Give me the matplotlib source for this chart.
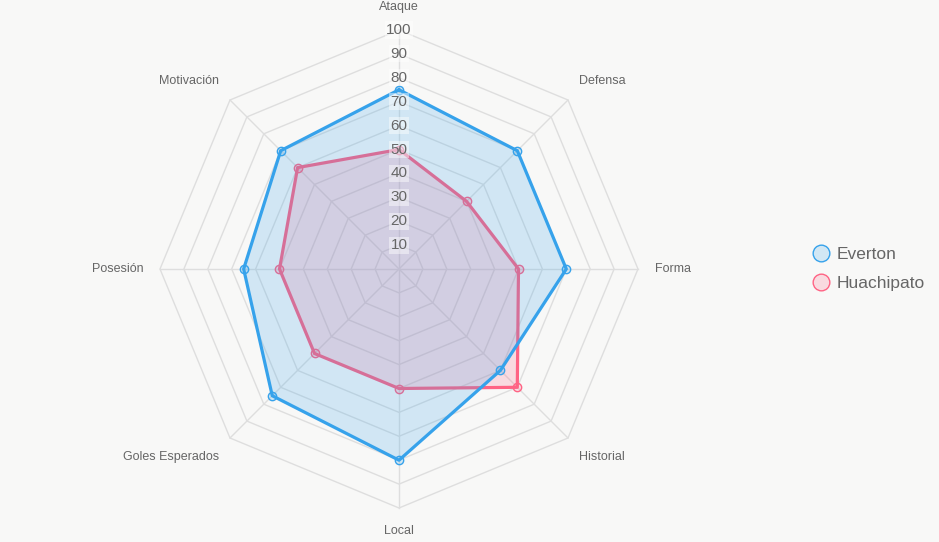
import numpy as np
import matplotlib
matplotlib.use('Agg')
import matplotlib.pyplot as plt
from matplotlib.lines import Line2D

categories = ['Ataque', 'Defensa', 'Forma', 'Historial', 'Local',
              'Goles Esperados', 'Posesión', 'Motivación']
everton = [75, 70, 70, 60, 80, 75, 65, 70]
huachipato = [50, 40, 50, 70, 50, 50, 50, 60]
ticks = [10, 20, 30, 40, 50, 60, 70, 80, 90, 100]

plt.rcParams['font.family'] = ['Liberation Sans', 'DejaVu Sans']

bg = '#f8f8f7'
blue = '#36a2eb'
pink = '#ff6384'

# pixel scale: 2.39 px per unit, centre at (399, 269)
s = 2.39
cx, cy = 399, 269
W, H = 939, 542

fig = plt.figure(figsize=(W / 100, H / 100), dpi=100, facecolor=bg)
ax = fig.add_axes([0, 0, 1, 1])
ax.set_facecolor(bg)
ax.set_xlim(-cx / s, (W - cx) / s)
ax.set_ylim(-(H - cy) / s, cy / s)
ax.axis('off')

n = len(categories)
ang = np.pi / 2 - np.arange(n) * 2 * np.pi / n
ux, uy = np.cos(ang), np.sin(ang)


def poly(vals):
    v = np.array(vals, dtype=float)
    x = v * ux
    y = v * uy
    return np.append(x, x[0]), np.append(y, y[0])


# grid
for t in ticks:
    gx, gy = poly([t] * n)
    ax.plot(gx, gy, color='#dedede', lw=1, zorder=1)
for i in range(n):
    ax.plot([0, 100 * ux[i]], [0, 100 * uy[i]], color='#dedede', lw=1, zorder=1)

# Huachipato (drawn below)
hx, hy = poly(huachipato)
ax.fill(hx, hy, color=pink, alpha=0.2, lw=0, zorder=2)
ax.plot(hx, hy, color=pink, lw=2.3, zorder=3)
ax.plot(hx[:-1], hy[:-1], 'o', ms=6, mfc=(1, 0.39, 0.52, 0.2), mec=pink,
        mew=1, zorder=3)

# Everton (on top)
ex, ey = poly(everton)
ax.fill(ex, ey, color=blue, alpha=0.2, lw=0, zorder=4)
ax.plot(ex, ey, color=blue, lw=2.3, zorder=5)
ax.plot(ex[:-1], ey[:-1], 'o', ms=6, mfc=(0.21, 0.64, 0.92, 0.2), mec=blue,
        mew=1, zorder=5)

# tick labels
for t in ticks:
    ax.text(0, t, str(t), ha='center', va='center', fontsize=11,
            color='#666666', zorder=6,
            bbox=dict(boxstyle='square,pad=0.1', fc=(1, 1, 1, 0.45), ec='none'))

# point labels
for i, c in enumerate(categories):
    dx, dy = ux[i], uy[i]
    if abs(dx) < 0.01:
        ha = 'center'
        lx, ly = 0, 109.5 * np.sign(dy)
    elif abs(dy) < 0.01:
        ha = 'left' if dx > 0 else 'right'
        lx, ly = 107 * np.sign(dx), 0
    else:
        ha = 'left' if dx > 0 else 'right'
        lx, ly = 75.3 * np.sign(dx), 78.5 * np.sign(dy)
    ax.text(lx, ly, c, ha=ha, va='center', fontsize=9, color='#666666')

handles = [Line2D([], [], ls='none', marker='o', ms=12,
                  mfc=(0.21, 0.64, 0.92, 0.2), mec=blue, mew=1),
           Line2D([], [], ls='none', marker='o', ms=12,
                  mfc=(1, 0.39, 0.52, 0.2), mec=pink, mew=1)]
leg = ax.legend(handles, ['Everton', 'Huachipato'], loc='center left',
                bbox_to_anchor=(804 / W, 1 - 269 / H), frameon=False,
                fontsize=12.5, handletextpad=0.3, labelspacing=0.75,
                handlelength=1.2, borderaxespad=0)
for tx in leg.get_texts():
    tx.set_color('#666666')

fig.savefig('out.png', dpi=100, facecolor=bg)
